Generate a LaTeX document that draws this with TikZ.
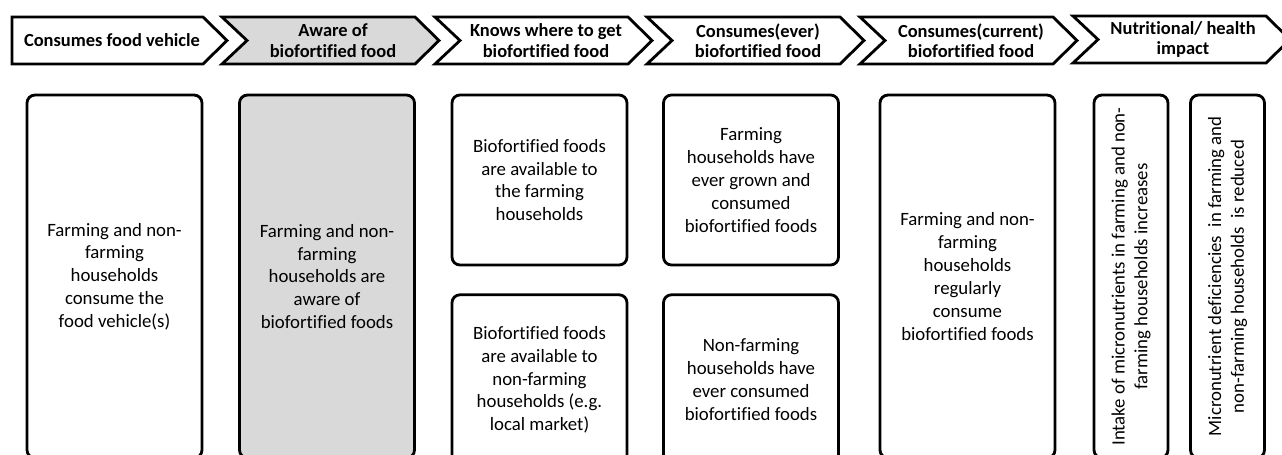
\documentclass[tikz,border=0pt]{standalone}
\usepackage{fontspec}
\setmainfont{Carlito}[Ligatures=NoCommon]
\usetikzlibrary{positioning}

\definecolor{lightgrey}{HTML}{D9D9D9}

\begin{document}
\begin{tikzpicture}[
    x=0.02cm, y=-0.02cm,
    chev/.style={draw, line width=1.6pt, line join=miter, fill=white},
    head/.style={align=center, inner sep=0pt, font=\bfseries\fontsize{10.5}{11.6}\selectfont},
    card/.style={draw, line width=1.6pt, rounded corners=4.5pt, align=center, inner sep=2pt,
                 font=\fontsize{10.7}{13}\selectfont},
    tall/.style={card, minimum width=3.5cm, minimum height=7.26cm},
    half/.style={card, minimum width=3.5cm, minimum height=3.4cm},
    thin/.style={card, rotate=90, minimum width=7.26cm, minimum height=1.48cm}
  ]
  \useasboundingbox (0,0) rectangle (1282,454);
  \clip (0,0) rectangle (1282,454);

  % stage chevrons
  \draw[chev] (12,17) -- (203,17) -- (227,40.5) -- (203,64) -- (12,64) -- cycle;
  \draw[chev, fill=lightgrey] (222,17) -- (415,17) -- (439,40.5) -- (415,64) -- (222,64) -- (247,40.5) -- cycle;
  \draw[chev] (435,17) -- (628,17) -- (652,40.5) -- (628,64) -- (435,64) -- (460,40.5) -- cycle;
  \draw[chev] (647,17) -- (840,17) -- (864,40.5) -- (840,64) -- (647,64) -- (672,40.5) -- cycle;
  \draw[chev] (860,17) -- (1053,17) -- (1077,40.5) -- (1053,64) -- (860,64) -- (885,40.5) -- cycle;
  \draw[chev] (1073,16) -- (1266,16) -- (1290,39.5) -- (1266,63) -- (1073,63) -- (1098,39.5) -- cycle;

  \node[head] (h1) at (112,40.5) {Consumes food vehicle};
  \node[head] (h2) at (333,40.5) {Aware of\\biofortified food};
  \node[head] (h3) at (546,40.5) {Knows where to get\\biofortified food};
  \node[head] (h4) at (758,40.5) {Consumes(ever)\\biofortified food};
  \node[head] (h5) at (971,40.5) {Consumes(current)\\biofortified food};
  \node[head] (h6) at (1183,39.5) {Nutritional/ health\\impact};

  % outcome boxes
  \node[tall] (b1) at (114.5,276.5) {Farming and non-\\farming\\households\\consume the\\food vehicle(s)};
  \node[tall, fill=lightgrey] (b2) at (327,276.5) {Farming and non-\\farming\\households are\\aware of\\biofortified foods};
  \node[half] (b3a) at (539.5,180) {Biofortified foods\\are available to\\the farming\\households};
  \node[half, below=0.54cm of b3a] (b3b) {Biofortified foods\\are available to\\non-farming\\households (e.g.\\local market)};
  \node[half] (b4a) at (751,180) {Farming\\households have\\ever grown and\\consumed\\biofortified foods};
  \node[half, below=0.54cm of b4a] (b4b) {Non-farming\\households have\\ever consumed\\biofortified foods};
  \node[tall] (b5) at (967.5,276.5) {Farming and non-\\farming\\households\\regularly\\consume\\biofortified foods};
  \node[thin] (b6) at (1131,276.5) {Intake of micronutrients in farming and non-\\farming households increases};
  \node[thin] (b7) at (1227.5,276.5) {Micronutrient deficiencies\ \ in farming and\\non-farming households\ \ is reduced};

\end{tikzpicture}
\end{document}
